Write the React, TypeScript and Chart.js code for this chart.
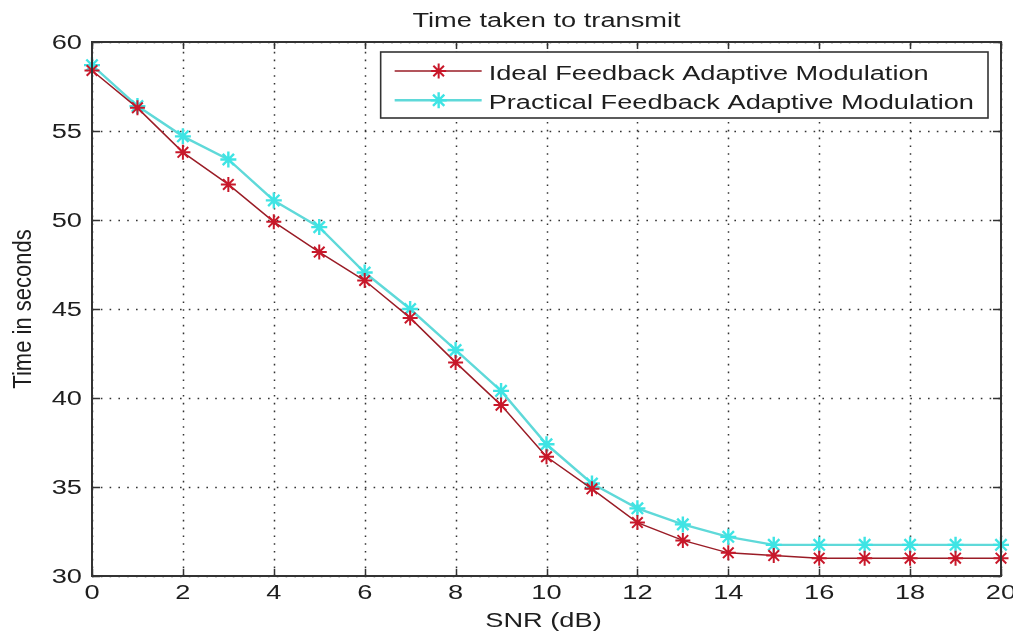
import React, { useEffect, useRef } from "react";
import { Chart, registerables } from "chart.js";

Chart.register(...registerables);

// SNR in dB along the x axis
const snr = [0, 1, 2, 3, 4, 5, 6, 7, 8, 9, 10, 11, 12, 13, 14, 15, 16, 17, 18, 19, 20];
// transmit time (s) with ideal feedback
const ideal = [58.4, 56.3, 53.8, 52.0, 49.9, 48.2, 46.6, 44.5, 42.0, 39.6, 36.7, 34.9, 33.0, 32.0, 31.3, 31.15, 31.0, 31.0, 31.0, 31.0, 31.0];
// transmit time (s) with practical feedback
const practical = [58.7, 56.4, 54.7, 53.4, 51.1, 49.6, 47.05, 45.0, 42.7, 40.4, 37.4, 35.2, 33.8, 32.9, 32.2, 31.75, 31.75, 31.75, 31.75, 31.75, 31.75];

const seriesNames = ["Ideal Feedback Adaptive Modulation", "Practical Feedback Adaptive Modulation"];
const titleText = "Time taken to transmit";
const xTitle = "SNR (dB)";
const yTitle = "Time in seconds";

const FONT = "'Liberation Sans', Arial, sans-serif";
const SX = 1.36; // horizontal widening of all lettering
const INK = "#1e1e1e";
const FRAME = "#333333";

function wideText(ctx: CanvasRenderingContext2D, text: string, x: number, y: number, align: CanvasTextAlign) {
  ctx.save();
  ctx.translate(x, y);
  ctx.scale(SX, 1);
  ctx.textAlign = align;
  ctx.textBaseline = "alphabetic";
  ctx.fillText(text, 0, 0);
  ctx.restore();
}

function star(ctx: CanvasRenderingContext2D, x: number, y: number, r: number, color: string, w: number) {
  ctx.save();
  ctx.strokeStyle = color;
  ctx.lineWidth = w;
  ctx.beginPath();
  ctx.moveTo(x - r, y); ctx.lineTo(x + r, y);
  ctx.moveTo(x, y - r); ctx.lineTo(x, y + r);
  const d = r * Math.SQRT1_2;
  ctx.moveTo(x - d, y - d); ctx.lineTo(x + d, y + d);
  ctx.moveTo(x - d, y + d); ctx.lineTo(x + d, y - d);
  ctx.stroke();
  ctx.restore();
}

const matlabAxes = {
  id: "matlabAxes",
  beforeDatasetsDraw(chart: any) {
    const { ctx, chartArea: ca, scales } = chart;
    const xs = scales.x, ys = scales.y;
    ctx.save();
    ctx.strokeStyle = FRAME;
    ctx.lineWidth = 1.5;
    ctx.setLineDash([1.6, 6.2]);
    xs.ticks.forEach((t: any) => {
      const px = Math.round(xs.getPixelForValue(t.value)) + 0.5;
      ctx.beginPath(); ctx.moveTo(px, ca.bottom); ctx.lineTo(px, ca.top); ctx.stroke();
    });
    ctx.setLineDash([1.6, 7.2]);
    ys.ticks.forEach((t: any) => {
      const py = Math.round(ys.getPixelForValue(t.value)) + 0.5;
      ctx.beginPath(); ctx.moveTo(ca.left, py); ctx.lineTo(ca.right, py); ctx.stroke();
    });
    ctx.restore();
  },
  afterDatasetsDraw(chart: any) {
    const { ctx, chartArea: ca, scales } = chart;
    const xs = scales.x, ys = scales.y;
    ctx.save();

    // frame and inward ticks
    ctx.strokeStyle = FRAME;
    ctx.lineWidth = 2;
    ctx.strokeRect(ca.left, ca.top, ca.right - ca.left, ca.bottom - ca.top);
    ctx.lineWidth = 1.5;
    xs.ticks.forEach((t: any) => {
      const px = Math.round(xs.getPixelForValue(t.value)) + 0.5;
      ctx.beginPath();
      ctx.moveTo(px, ca.bottom); ctx.lineTo(px, ca.bottom - 7);
      ctx.moveTo(px, ca.top); ctx.lineTo(px, ca.top + 7);
      ctx.stroke();
    });
    ys.ticks.forEach((t: any) => {
      const py = Math.round(ys.getPixelForValue(t.value)) + 0.5;
      ctx.beginPath();
      ctx.moveTo(ca.left, py); ctx.lineTo(ca.left + 8, py);
      ctx.moveTo(ca.right, py); ctx.lineTo(ca.right - 8, py);
      ctx.stroke();
    });

    // tick labels
    ctx.fillStyle = INK;
    ctx.font = `20px ${FONT}`;
    xs.ticks.forEach((t: any) => {
      wideText(ctx, String(t.value), xs.getPixelForValue(t.value), ca.bottom + 23, "center");
    });
    ys.ticks.forEach((t: any) => {
      wideText(ctx, String(t.value), ca.left - 10, ys.getPixelForValue(t.value) + 7, "right");
    });

    // title and axis titles
    const cx = (ca.left + ca.right) / 2;
    wideText(ctx, titleText, cx, ca.top - 15, "center");
    wideText(ctx, xTitle, cx - 3, ca.bottom + 51, "center");
    ctx.save();
    ctx.font = `22px ${FONT}`;
    ctx.translate(31, (ca.top + ca.bottom) / 2);
    ctx.rotate(-Math.PI / 2);
    ctx.scale(1, 1.15);
    ctx.textAlign = "center";
    ctx.textBaseline = "alphabetic";
    ctx.fillText(yTitle, 0, 0);
    ctx.restore();

    // legend
    ctx.font = `20px ${FONT}`;
    const textW = Math.max(...seriesNames.map((n) => ctx.measureText(n).width)) * SX;
    const boxW = 108 + textW + 14;
    const boxH = 66;
    const bx = ca.right - 13 - boxW;
    const by = ca.top + 10;
    ctx.fillStyle = "#ffffff";
    ctx.fillRect(bx, by, boxW, boxH);
    ctx.strokeStyle = FRAME;
    ctx.lineWidth = 1.6;
    ctx.strokeRect(bx, by, boxW, boxH);
    chart.data.datasets.forEach((ds: any, i: number) => {
      const ly = by + 19 + i * 29.3;
      ctx.strokeStyle = ds.borderColor;
      ctx.lineWidth = ds.borderWidth;
      ctx.beginPath(); ctx.moveTo(bx + 14, ly); ctx.lineTo(bx + 101, ly); ctx.stroke();
      star(ctx, bx + 58, ly, ds.pointRadius, ds.pointBorderColor, ds.pointBorderWidth);
      ctx.fillStyle = INK;
      wideText(ctx, seriesNames[i], bx + 108, ly + 9, "left");
    });
    ctx.restore();
  },
};

export default function App() {
  const canvasRef = useRef<HTMLCanvasElement | null>(null);

  useEffect(() => {
    const canvas = canvasRef.current;
    if (!canvas) return;
    const chart = new Chart(canvas, {
      type: "line",
      data: {
        datasets: [
          {
            label: seriesNames[0],
            data: snr.map((x, i) => ({ x, y: ideal[i] })),
            borderColor: "#9a1c26",
            borderWidth: 1.5,
            pointStyle: "star",
            pointRadius: 7.5,
            pointBorderColor: "#c8182a",
            pointBorderWidth: 2,
            pointBackgroundColor: "#c8182a",
            tension: 0,
            clip: false,
          } as any,
          {
            label: seriesNames[1],
            data: snr.map((x, i) => ({ x, y: practical[i] })),
            borderColor: "#5fd9d9",
            borderWidth: 2.4,
            pointStyle: "star",
            pointRadius: 8,
            pointBorderColor: "#3fe4e4",
            pointBorderWidth: 2.4,
            pointBackgroundColor: "#3fe4e4",
            tension: 0,
            clip: false,
          } as any,
        ],
      },
      options: {
        animation: false,
        responsive: false,
        devicePixelRatio: 1,
        layout: { padding: { left: 92, top: 42, right: 12, bottom: 56 } },
        plugins: { legend: { display: false }, title: { display: false }, tooltip: { enabled: false } },
        events: [],
        scales: {
          x: {
            type: "linear",
            min: 0,
            max: 20,
            ticks: { stepSize: 2, display: false },
            grid: { display: false, drawTicks: false },
            border: { display: false },
            afterFit: (s: any) => { s.height = 0; },
          },
          y: {
            type: "linear",
            min: 30,
            max: 60,
            ticks: { stepSize: 5, display: false },
            grid: { display: false, drawTicks: false },
            border: { display: false },
            afterFit: (s: any) => { s.width = 0; },
          },
        },
      },
      plugins: [matlabAxes],
    });
    return () => chart.destroy();
  }, []);

  return (
    <div style={{ position: "fixed", left: 0, top: 0, width: 1013, height: 632, background: "#ffffff" }}>
      <canvas ref={canvasRef} width={1013} height={632} />
    </div>
  );
}
